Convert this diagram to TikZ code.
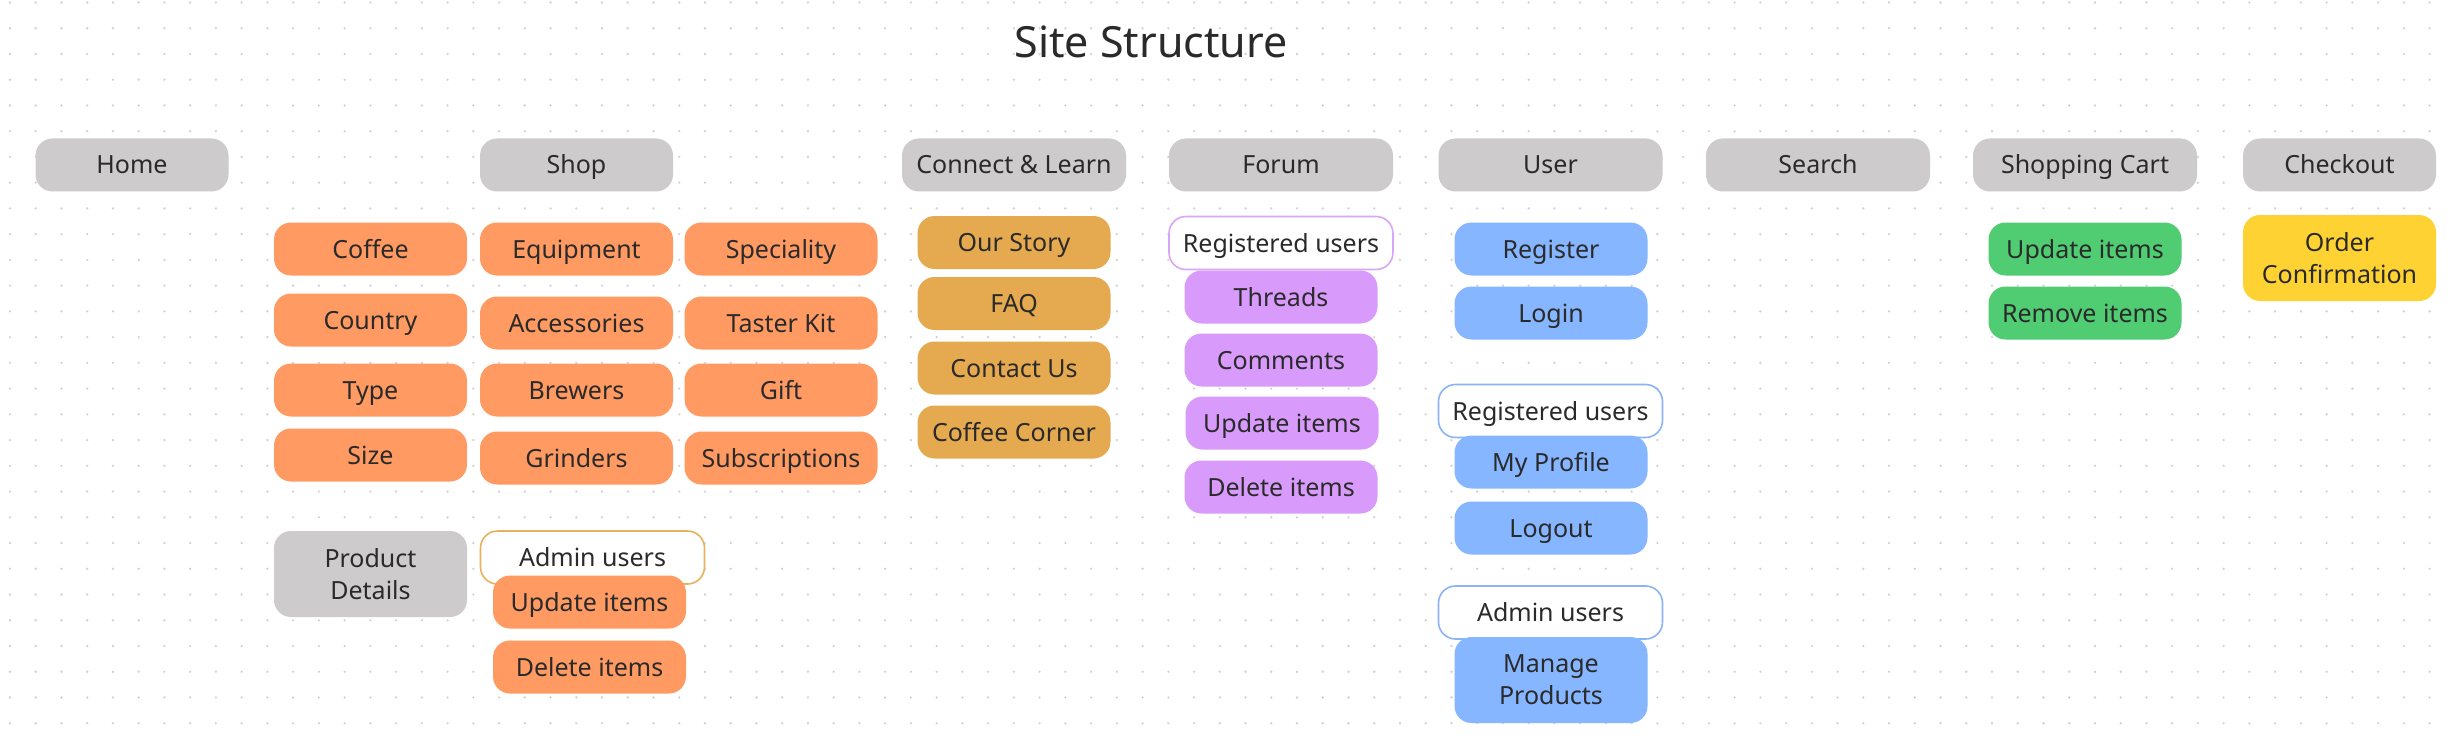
\documentclass[tikz,border=0pt]{standalone}
\usepackage{fontspec}
\setmainfont{Noto Sans}
\definecolor{txt}{HTML}{2A2A2A}
\definecolor{cgray}{HTML}{CDCBCC}
\definecolor{corange}{HTML}{FF9A62}
\definecolor{cgold}{HTML}{E5A950}
\definecolor{cpurple}{HTML}{D99BFB}
\definecolor{cblue}{HTML}{86B6FF}
\definecolor{cgreen}{HTML}{50CC72}
\definecolor{cyellow}{HTML}{FFD234}
\definecolor{dotc}{HTML}{D2D2D2}
\definecolor{lgold}{HTML}{E8B25C}
\definecolor{lpurple}{HTML}{D9A5F8}
\definecolor{lblue}{HTML}{8AB4F5}
\tikzset{
  base/.style={rounded corners=17pt, minimum height=53pt, minimum width=193pt,
    inner sep=0pt, text=txt, font=\fontsize{25}{32}\selectfont, align=center},
  one/.style={text height=18pt, text depth=0pt},
  two/.style={minimum height=86pt},
  wide/.style={minimum width=224pt},
  gbox/.style={base, fill=cgray},
  obox/.style={base, fill=corange},
  ybox/.style={base, fill=cgold},
  pbox/.style={base, fill=cpurple},
  bbox/.style={base, fill=cblue},
  grbox/.style={base, fill=cgreen},
  yelbox/.style={base, fill=cyellow},
  olbox/.style={base, wide, fill=white, line width=1.6pt},
}
\begin{document}
\begin{tikzpicture}[x=1pt, y=-1pt]
\fill[white] (0,0) rectangle (2448,746);
\useasboundingbox (0,0) rectangle (2448,746);
\foreach \i in {0,...,95} {
  \foreach \j in {0,...,28} {
    \fill[dotc] (10+25.74*\i, 2.5+25.74*\j) circle (1.3pt);
  }
}
\node[text=txt, font=\fontsize{43}{50}\selectfont, inner sep=0pt] (title) at (1151,42) {Site Structure};

% top row
\node[gbox, one] (home) at (132,165) {Home};
\node[gbox, one] (shop) at (576.5,165) {Shop};
\node[gbox, one, wide] (connect) at (1014,165) {Connect \& Learn};
\node[gbox, one, wide] (forum) at (1281,165) {Forum};
\node[gbox, one, wide] (user) at (1550.5,165) {User};
\node[gbox, one, wide] (search) at (1818,165) {Search};
\node[gbox, one, wide] (cart) at (2085,165) {Shopping Cart};
\node[gbox, one] (checkout) at (2339.5,165) {Checkout};

% outline labels (drawn first, below)
\node[olbox, one, draw=lgold] (adminS) at (592.5,557.5) {Admin users};
\node[olbox, one, draw=lpurple] (regF) at (1281,243) {Registered users};
\node[olbox, one, draw=lblue] (regU) at (1550.5,411) {Registered users};
\node[olbox, one, draw=lblue] (adminU) at (1550.5,612.5) {Admin users};

% shop
\node[obox, one] (coffee) at (370.5,249) {Coffee};
\node[obox, one] (country) at (370.5,320) {Country};
\node[obox, one] (type) at (370.5,390) {Type};
\node[obox, one] (size) at (370.5,455) {Size};
\node[obox, one] (equipment) at (576.5,249) {Equipment};
\node[obox, one] (accessories) at (576.5,323) {Accessories};
\node[obox, one] (brewers) at (576.5,390) {Brewers};
\node[obox, one] (grinders) at (576.5,458) {Grinders};
\node[obox, one] (speciality) at (781,249) {Speciality};
\node[obox, one] (taster) at (781,323) {Taster Kit};
\node[obox, one] (gift) at (781,390) {Gift};
\node[obox, one] (subs) at (781,458) {Subscriptions};
\node[gbox, two] (details) at (370.5,574) {Product\\Details};
\node[obox, one] (updS) at (589.5,602) {Update items};
\node[obox, one] (delS) at (589.5,667) {Delete items};

% connect & learn
\node[ybox, one] (story) at (1014,242.5) {Our Story};
\node[ybox, one] (faq) at (1014,303.5) {FAQ};
\node[ybox, one] (contact) at (1014,368) {Contact Us};
\node[ybox, one] (corner) at (1014,432) {Coffee Corner};

% forum
\node[pbox, one] (threads) at (1281,297) {Threads};
\node[pbox, one] (comments) at (1281,360) {Comments};
\node[pbox, one] (updF) at (1282,423) {Update items};
\node[pbox, one] (delF) at (1281,487) {Delete items};

% user
\node[bbox, one] (register) at (1551,249) {Register};
\node[bbox, one] (login) at (1551,313) {Login};
\node[bbox, one] (profile) at (1551,462) {My Profile};
\node[bbox, one] (logout) at (1551,528) {Logout};
\node[bbox, two] (manage) at (1551,680) {Manage\\Products};

% cart & checkout
\node[grbox, one] (updC) at (2085,249) {Update items};
\node[grbox, one] (remove) at (2085,313) {Remove items};
\node[yelbox, two] (order) at (2339.5,258) {Order\\Confirmation};
\end{tikzpicture}
\end{document}
